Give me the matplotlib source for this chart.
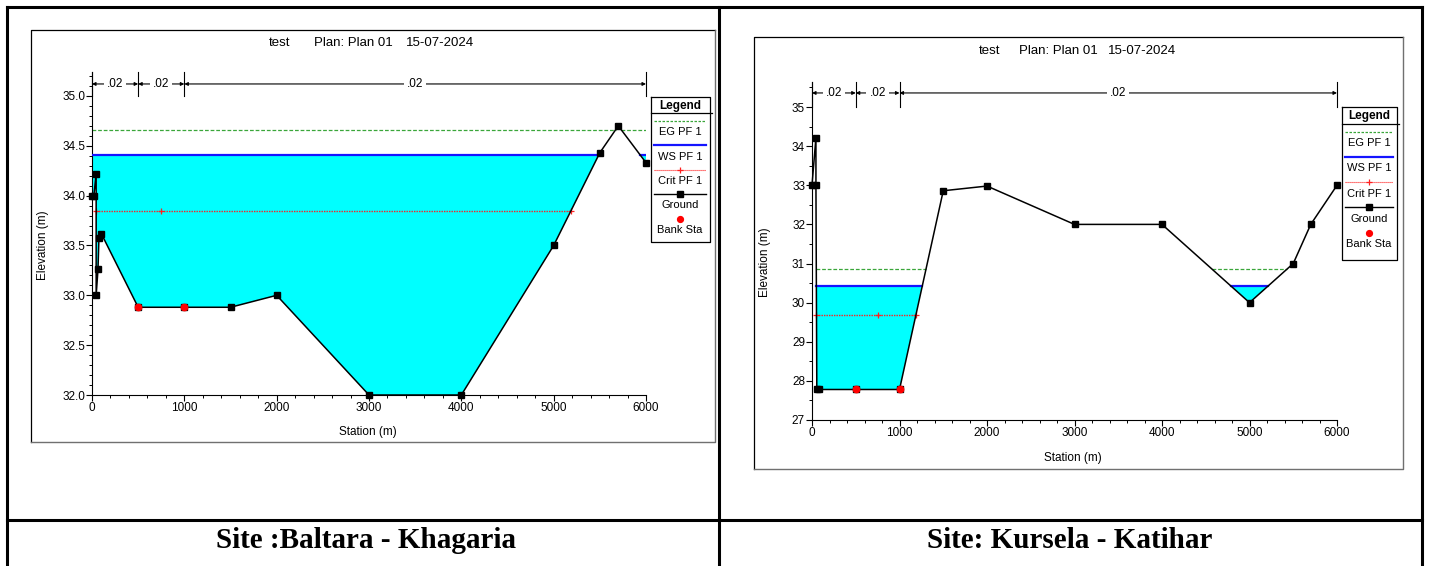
import numpy as np
import matplotlib
matplotlib.use("Agg")
import matplotlib.pyplot as plt
from matplotlib.ticker import MultipleLocator, FormatStrFormatter

# ---------------- cross-section data ----------------
# Site: Baltara - Khagaria
baltara_station = [0, 20, 45, 45, 65, 75, 100, 500, 1000, 1500, 2000, 3000, 4000, 5000, 5500, 5700, 6000]
baltara_ground = [34.00, 34.00, 34.22, 33.00, 33.26, 33.57, 33.62, 32.88, 32.88, 32.88, 33.00,
                  32.00, 32.00, 33.50, 34.43, 34.70, 34.33]
baltara_banks = [500, 1000]
baltara_eg = 34.66
baltara_ws = 34.41
baltara_crit = 33.85

# Site: Kursela - Katihar
kursela_station = [0, 45, 45, 55, 80, 500, 1000, 1500, 2000, 3000, 4000, 5000, 5500, 5700, 6000]
kursela_ground = [33.00, 34.22, 33.00, 27.78, 27.78, 27.78, 27.78, 32.86, 32.98, 32.00, 32.00,
                  30.00, 31.00, 32.00, 33.00]
kursela_banks = [500, 1000]
kursela_eg = 30.85
kursela_ws = 30.42
kursela_crit = 29.68

# Manning's n regions (same for both sections)
n_breaks = [0, 500, 1000, 6000]
n_values = [0.02, 0.02, 0.02]

plot_title = ["test", "Plan: Plan 01", "15-07-2024"]
captions = ["Site :Baltara - Khagaria", "Site: Kursela - Katihar"]
legend_labels = ["EG PF 1", "WS PF 1", "Crit PF 1", "Ground", "Bank Sta"]

# ---------------- styling ----------------
W, H = 1429, 566
SANS = ["Liberation Sans Narrow", "Liberation Sans", "DejaVu Sans"]
plt.rcParams["font.family"] = SANS
C_WATER = "#00FFFF"
C_EG = "#3AA63A"
C_WS = "#1414FF"
C_CRIT = "#FF2020"


def wet_spans(x, z, level):
    """Station intervals where the ground lies below a given level."""
    spans = []
    for i in range(len(x) - 1):
        x0, x1, z0, z1 = x[i], x[i + 1], z[i], z[i + 1]
        if z0 < level and z1 < level:
            seg = (x0, x1)
        elif z0 < level <= z1:
            seg = (x0, x0 + (level - z0) / (z1 - z0) * (x1 - x0))
        elif z1 < level <= z0:
            seg = (x0 + (z0 - level) / (z0 - z1) * (x1 - x0), x1)
        else:
            continue
        if spans and abs(spans[-1][1] - seg[0]) < 1e-9:
            spans[-1] = (spans[-1][0], seg[1])
        else:
            spans.append(seg)
    return spans


def draw_section(ax, sta, z, banks, eg, ws, crit, ylim, ymajor, yminor, yfmt, n_level):
    sta = np.asarray(sta, float)
    z = np.asarray(z, float)
    ax.set_xlim(0, 6000)
    ax.set_ylim(*ylim)

    # water body
    ax.fill_between(sta, z, ws, where=z < ws, interpolate=True, color=C_WATER, lw=0, zorder=1)
    for lo, hi in wet_spans(sta, z, eg):
        ax.plot([lo, hi], [eg, eg], color=C_EG, lw=0.9, ls=(0, (3, 1.5)), zorder=2)
    for lo, hi in wet_spans(sta, z, ws):
        ax.plot([lo, hi], [ws, ws], color=C_WS, lw=1.6, zorder=3)
    mid = np.mean(banks)
    for lo, hi in wet_spans(sta, z, crit):
        ax.plot([lo, hi], [crit, crit], color=C_CRIT, lw=1.0, ls=(0, (1, 0.8)), zorder=3)
        pts = [lo, hi] + ([mid] if lo < mid < hi else [])
        ax.plot(pts, [crit] * len(pts), ls="none", marker="+", color=C_CRIT, ms=5, mew=0.9, zorder=3)

    # ground line and bank stations
    ax.plot(sta, z, color="k", lw=1.1, marker="s", ms=4.0, mfc="k", mec="k", zorder=5, clip_on=False)
    ax.plot(banks, np.interp(banks, sta, z), ls="none", marker="o", color="#FF0000", ms=4.6,
            zorder=6, clip_on=False)

    # Manning's n markers above the section
    top = ylim[1]
    for b in n_breaks:
        ax.plot([b, b], [ymajor[1], top], color="k", lw=0.8, zorder=4, clip_on=False)
    for (b0, b1), n in zip(zip(n_breaks[:-1], n_breaks[1:]), n_values):
        ax.annotate("", xy=(b0, n_level), xytext=(b1, n_level),
                    arrowprops=dict(arrowstyle="<|-|>", lw=0.8, color="k", shrinkA=0, shrinkB=0,
                                    mutation_scale=5))
        ax.text((b0 + b1) / 2, n_level, f"{n:.2f}".lstrip("0"), ha="center", va="center",
                fontsize=8.5, zorder=6,
                bbox=dict(boxstyle="square,pad=0.25", fc="white", ec="none"))

    # axes
    for s in ("top", "right"):
        ax.spines[s].set_visible(False)
    for s in ("left", "bottom"):
        ax.spines[s].set_linewidth(0.8)
    ax.xaxis.set_major_locator(MultipleLocator(1000))
    ax.xaxis.set_minor_locator(MultipleLocator(200))
    ax.yaxis.set_major_locator(MultipleLocator(ymajor[0]))
    ax.yaxis.set_minor_locator(MultipleLocator(yminor))
    ax.yaxis.set_major_formatter(FormatStrFormatter(yfmt))
    ax.set_yticks(np.arange(ylim[0], ymajor[1] + 1e-6, ymajor[0]))
    ax.tick_params(which="major", direction="out", length=4, width=0.8, labelsize=8.5, pad=1)
    ax.tick_params(which="minor", direction="out", length=2.5, width=0.7)
    ax.set_facecolor("white")


fig = plt.figure(figsize=(W / 100, H / 100), dpi=100)

ax1 = fig.add_axes([92 / W, 1 - 395 / H, 554 / W, 323 / H])
draw_section(ax1, baltara_station, baltara_ground, baltara_banks, baltara_eg, baltara_ws, baltara_crit,
             ylim=(32.0, 35.24), ymajor=(0.5, 35.0), yminor=0.1, yfmt="%.1f", n_level=35.12)

ax2 = fig.add_axes([812 / W, 1 - 420 / H, 525 / W, 338 / H])
draw_section(ax2, kursela_station, kursela_ground, kursela_banks, kursela_eg, kursela_ws, kursela_crit,
             ylim=(27.0, 35.64), ymajor=(1.0, 35.0), yminor=0.5, yfmt="%.0f", n_level=35.36)

# overlay in pixel coordinates for table, frames, titles, labels and legends
ov = fig.add_axes([0, 0, 1, 1], zorder=10)
ov.set_xlim(0, W)
ov.set_ylim(H, 0)
ov.axis("off")
ov.patch.set_visible(False)

LW_TABLE = 2.2
ov.plot([7, 1422], [7, 7], color="k", lw=LW_TABLE, solid_capstyle="projecting")
ov.plot([7, 1422], [520, 520], color="k", lw=LW_TABLE)
for xv in (7, 719, 1422):
    ov.plot([xv, xv], [7, H], color="k", lw=LW_TABLE, solid_capstyle="projecting")

# chart frames
for (x0, y0, x1, y1) in [(31, 30, 715, 442), (754, 37, 1403, 469)]:
    ov.plot([x0, x0, x1], [y1, y0, y0], color="k", lw=0.9)
    ov.plot([x0, x1, x1], [y1, y1, y0], color="#707070", lw=1.0)

# chart titles (pieces centred at their own positions)
for (tx, ty) in [((280, 353, 440), 43), ((990, 1058, 1142), 51)]:
    for xx, s in zip(tx, plot_title):
        ov.text(xx, ty, s, ha="center", va="center", fontsize=9.5)

# axis labels
ov.text(43, 245, "Elevation (m)", rotation=90, ha="center", va="center", fontsize=8.5)
ov.text(765, 262, "Elevation (m)", rotation=90, ha="center", va="center", fontsize=8.5)
ov.text(368, 432, "Station (m)", ha="center", va="center", fontsize=8.5)
ov.text(1073, 458, "Station (m)", ha="center", va="center", fontsize=8.5)

# captions
for cx, cap in zip((366, 1070), captions):
    ov.text(cx, 540, cap, ha="center", va="center", fontsize=21, fontweight="bold",
            family=["Liberation Serif", "DejaVu Serif"])


def draw_legend(x0, x1, top, sep, step, bottom):
    ov.plot([x0, x1, x1, x0, x0], [top, top, bottom, bottom, top], color="k", lw=0.9)
    ov.plot([x0, x1 + 2], [sep, sep], color="k", lw=0.9)
    ov.text((x0 + x1) / 2, (top + sep) / 2 + 0.5, "Legend", ha="center", va="center",
            fontsize=8.5, fontweight="bold")
    sx0, sx1 = x0 + 3, x1 - 4
    xm = (sx0 + sx1) / 2
    for i, lab in enumerate(legend_labels):
        ys = sep + 7.5 + i * step
        if i == 0:
            ov.plot([sx0, sx1], [ys, ys], color=C_EG, lw=0.9, ls=(0, (2, 1.2)))
        elif i == 1:
            ov.plot([sx0, sx1], [ys, ys], color=C_WS, lw=1.6)
        elif i == 2:
            ov.plot([sx0, sx1], [ys, ys], color=C_CRIT, lw=0.8, ls=(0, (1, 0.8)))
            ov.plot([xm], [ys], marker="+", color=C_CRIT, ms=5, mew=0.9)
        elif i == 3:
            ov.plot([sx0, sx1], [ys, ys], color="k", lw=1.0)
            ov.plot([xm], [ys], marker="s", color="k", ms=4.0)
        else:
            ov.plot([xm], [ys], marker="o", color="#FF0000", ms=4.2)
        ov.text(xm, ys + 11.5, lab, ha="center", va="center", fontsize=8)


draw_legend(651, 710, 97, 113, 24.5, 242)
draw_legend(1342, 1397, 107, 124, 25.3, 260)

fig.savefig("out.png", dpi=100, facecolor="white")
